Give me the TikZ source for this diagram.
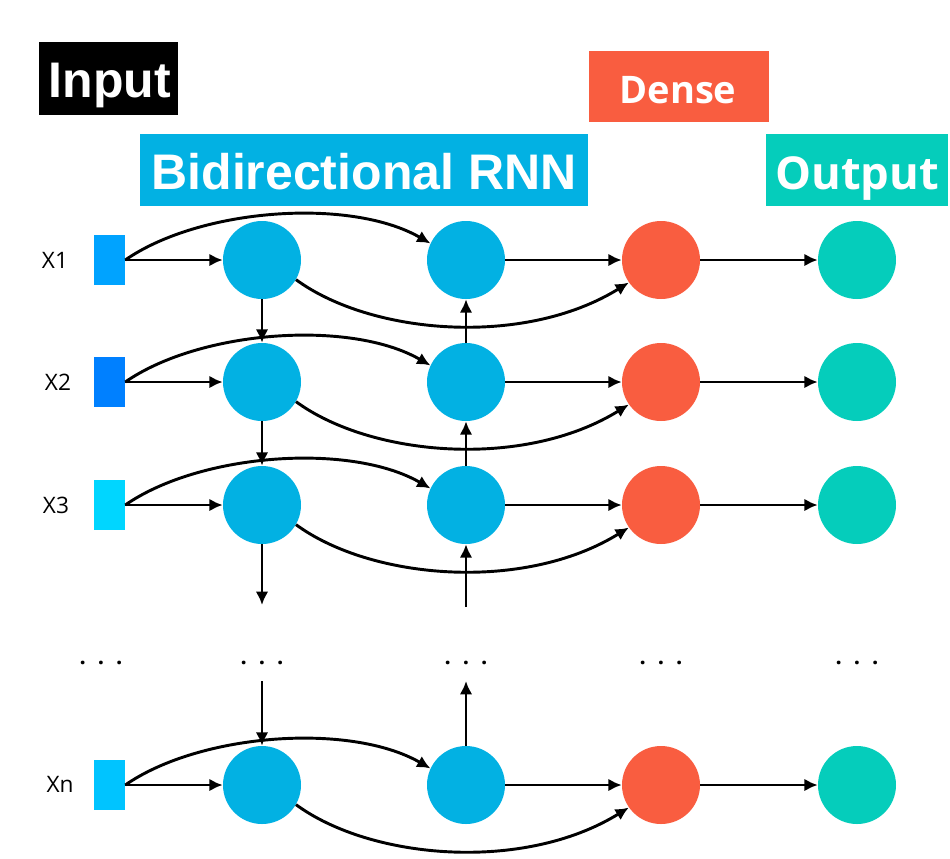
\documentclass[tikz,border=0pt]{standalone}
\usepackage{fontspec}
\setmainfont{Open Sans}
\newfontfamily\arialf{Liberation Sans}
\usetikzlibrary{arrows.meta}
\definecolor{rnnblue}{HTML}{02B1E3}
\definecolor{densered}{HTML}{F95D40}
\definecolor{outteal}{HTML}{05CDBB}
\definecolor{xa}{HTML}{00A3FF}
\definecolor{xb}{HTML}{0080FF}
\definecolor{xc}{HTML}{00D6FF}
\definecolor{xd}{HTML}{00C4FF}
\tikzset{
  arr/.style={line width=2.2pt,-{Latex[length=10pt,width=9.5pt]}},
  cell/.style={circle,inner sep=0pt,minimum size=58.5pt},
  rnncell/.style={cell,fill=rnnblue},
  densecell/.style={cell,fill=densered},
  outcell/.style={cell,fill=outteal},
  insq/.style={rectangle,inner sep=0pt,minimum width=23.25pt,minimum height=37.5pt},
  xlab/.style={anchor=base,font=\fontsize{17pt}{18pt}\selectfont,inner sep=0pt},
  dots/.style={anchor=base,font=\bfseries\fontsize{16.5pt}{18pt}\selectfont,inner sep=0pt},
  titlebox/.style={rectangle,inner sep=0pt},
  titletxt/.style={anchor=base,text=white,inner sep=0pt},
}
\newcommand{\threedots}{.\hspace{9pt}.\hspace{9pt}.}
\begin{document}
\begin{tikzpicture}[x=0.75pt,y=-0.75pt]
\useasboundingbox (0,0) rectangle (950,858);
% title boxes
\node[titlebox,fill=black,minimum width=104.25pt,minimum height=54.75pt] (inbox) at (108.5,78.5) {};
\node[titletxt,font=\arialf\bfseries\fontsize{37.5pt}{40pt}\selectfont] (intxt) at (110,97) {Input};
\node[titlebox,fill=densered,minimum width=135pt,minimum height=53.25pt] (densebox) at (679,86.5) {};
\node[titletxt,font=\bfseries\fontsize{28.5pt}{30pt}\selectfont] (densetxt) at (678,103) {Dense};
\node[titlebox,fill=rnnblue,minimum width=336pt,minimum height=54pt] (rnnbox) at (364,170) {};
\node[titletxt,font=\arialf\bfseries\fontsize{37.5pt}{40pt}\selectfont] (rnntxt) at (364,189) {Bidirectional RNN};
\node[titlebox,fill=outteal,minimum width=136.5pt,minimum height=54pt] (outbox) at (857,170) {};
\node[titletxt,font=\bfseries\fontsize{34pt}{36pt}\selectfont] (outtxt) at (857,189) {Output};
% labels
\node[xlab] (l1) at (55,268) {X1};
\node[xlab] (l2) at (58,390) {X2};
\node[xlab] (l3) at (56,513) {X3};
\node[xlab] (ln) at (60,792) {Xn};
% input squares
\node[insq,fill=xa] (x1) at (109.5,260) {};
\node[insq,fill=xb] (x2) at (109.5,382) {};
\node[insq,fill=xc] (x3) at (109.5,505) {};
\node[insq,fill=xd] (xn) at (109.5,785) {};
% cells
\foreach \r/\y in {1/260,2/382,3/505,n/785}{
  \node[rnncell] (a\r) at (262,\y) {};
  \node[rnncell] (b\r) at (466,\y) {};
  \node[densecell] (d\r) at (661,\y) {};
  \node[outcell] (o\r) at (857,\y) {};
}
% dots
\node[dots] (dx) at (101,664) {\threedots};
\node[dots] (da) at (262,664) {\threedots};
\node[dots] (db) at (466,664) {\threedots};
\node[dots] (dd) at (661,664) {\threedots};
\node[dots] (do) at (857,664) {\threedots};
% connectors per row
\foreach \r in {1,2,3,n}{
  \draw[arr] (x\r.east) -- (a\r.west);
  \draw[arr] (x\r.east) .. controls +(75,-52) and +(-80,-46) .. (b\r.155);
  \draw[arr] (a\r.-30) .. controls +(75,55) and +(-105,65) .. (d\r.-145);
  \draw[arr] (b\r.east) -- (d\r.west);
  \draw[arr] (d\r.east) -- (o\r.west);
}
% vertical connectors
\coordinate (adown) at (262,605);
\coordinate (bup) at (466,607);
\coordinate (atop) at (262,681);
\coordinate (btop) at (466,681);
\draw[arr] (a1.south) -- (a2.north);
\draw[arr] (a2.south) -- (a3.north);
\draw[arr] (a3.south) -- (adown);
\draw[arr] (atop) -- (an.north);
\draw[arr] (b2.north) -- (b1.south);
\draw[arr] (b3.north) -- (b2.south);
\draw[arr] (bup) -- (b3.south);
\draw[arr] (bn.north) -- (btop);
\end{tikzpicture}
\end{document}
